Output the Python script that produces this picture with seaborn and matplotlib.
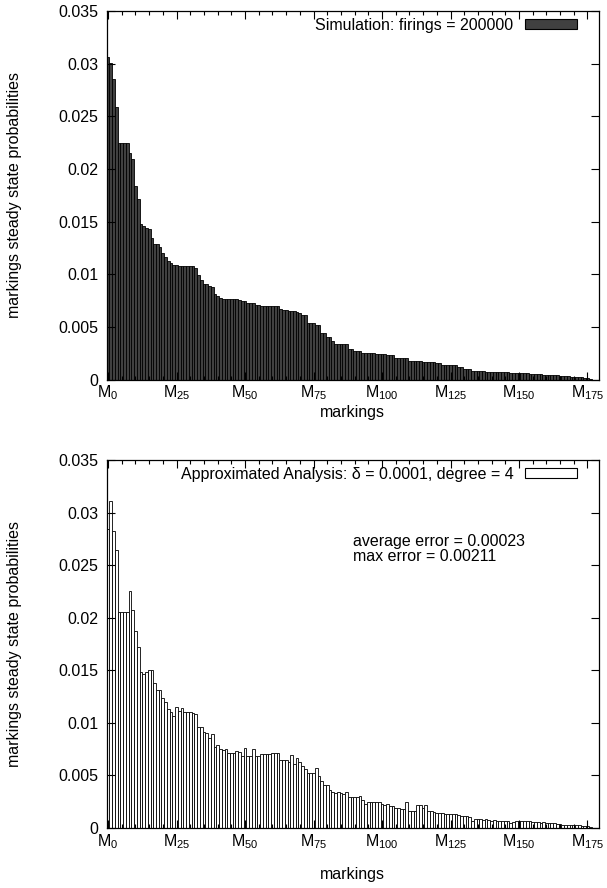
import numpy as np
import pandas as pd
import seaborn as sns
import matplotlib.pyplot as plt
from matplotlib.patches import Patch
from matplotlib.ticker import MultipleLocator, FuncFormatter

plt.rcParams['font.family'] = ['Liberation Sans', 'DejaVu Sans']
plt.rcParams['mathtext.default'] = 'regular'

#steady state probability of each marking (sorted by the simulation result)
sim_probs = [
    0.0306, 0.0301, 0.0285, 0.0259, 0.0225, 0.0225, 0.0225, 0.0225, 0.0215, 0.0209,
    0.0184, 0.0171, 0.0148, 0.0146, 0.0144, 0.0143, 0.0134, 0.0129, 0.0129, 0.0126,
    0.0120, 0.0116, 0.0113, 0.0111, 0.0109, 0.01085, 0.0108, 0.0108, 0.0108, 0.0108,
    0.0108, 0.0108, 0.0106, 0.0099, 0.0095, 0.0091, 0.0091, 0.0089, 0.0088, 0.0081,
    0.0079, 0.0077, 0.00765, 0.00765, 0.00765, 0.00765, 0.00765, 0.00765, 0.0076, 0.0075,
    0.0075, 0.0073, 0.0073, 0.0073, 0.0071, 0.0071, 0.0070, 0.0070, 0.0070, 0.0070,
    0.0070, 0.0070, 0.0070, 0.0067, 0.0066, 0.0066, 0.0065, 0.0065, 0.0065, 0.0064,
    0.0063, 0.0061, 0.0061, 0.0054, 0.0054, 0.0054, 0.0052, 0.0052, 0.0044, 0.0044,
    0.0040, 0.0040, 0.0037, 0.0034, 0.0034, 0.0034, 0.0034, 0.0034, 0.0029, 0.0029,
    0.0027, 0.0027, 0.0027, 0.00255, 0.00255, 0.00255, 0.00255, 0.00255, 0.0024, 0.0024,
    0.0024, 0.0024, 0.0023, 0.0023, 0.0023, 0.0020, 0.0020, 0.0020, 0.0020, 0.0020,
    0.0018, 0.0018, 0.0018, 0.0018, 0.0018, 0.0017, 0.0017, 0.0017, 0.0017, 0.0017,
    0.0016, 0.0016, 0.0014, 0.0014, 0.0014, 0.0014, 0.0014, 0.0014, 0.0012, 0.0012,
    0.0010, 0.0010, 0.0010, 0.00084, 0.00084, 0.00084, 0.00084, 0.00084, 0.00074, 0.00074,
    0.00074, 0.00074, 0.00074, 0.00074, 0.00074, 0.00074, 0.00074, 0.00065, 0.00065, 0.00065,
    0.00065, 0.00065, 0.00065, 0.00065, 0.00055, 0.00055, 0.00055, 0.00055, 0.00055, 0.00046,
    0.00046, 0.00046, 0.00046, 0.00046, 0.00046, 0.00036, 0.00036, 0.00036, 0.00036, 0.00027,
    0.00027, 0.00027, 0.00027, 0.00027, 0.00017, 0.0001, 0.00006,
]

approx_probs = [
    0.0284, 0.0311, 0.0282, 0.0264, 0.0205, 0.0205, 0.0205, 0.0205, 0.0225, 0.0207,
    0.0187, 0.0172, 0.0148, 0.0146, 0.0148, 0.0150, 0.0150, 0.0138, 0.0131, 0.0131,
    0.0123, 0.0120, 0.0113, 0.0110, 0.0106, 0.0115, 0.0111, 0.0114, 0.0110, 0.0110,
    0.0110, 0.01095, 0.0108, 0.00955, 0.0096, 0.0091, 0.0090, 0.0085, 0.0089, 0.0077,
    0.0079, 0.0075, 0.0074, 0.0075, 0.0071, 0.0071, 0.0071, 0.0073, 0.0072, 0.0068,
    0.0076, 0.0068, 0.0068, 0.0075, 0.0068, 0.0068, 0.0070, 0.0070, 0.0070, 0.0070,
    0.0071, 0.0071, 0.0071, 0.0064, 0.0064, 0.0064, 0.0063, 0.0069, 0.0061, 0.0066,
    0.0063, 0.0059, 0.0056, 0.0052, 0.0052, 0.0052, 0.0057, 0.0049, 0.0044, 0.0041,
    0.0041, 0.0036, 0.0034, 0.0033, 0.0034, 0.0033, 0.0032, 0.0034, 0.0029, 0.0029,
    0.0029, 0.0029, 0.0030, 0.0026, 0.0023, 0.00245, 0.00245, 0.00245, 0.00245, 0.00245,
    0.0023, 0.0022, 0.0023, 0.0021, 0.0021, 0.0019, 0.0019, 0.0018, 0.0018, 0.00245,
    0.0016, 0.0016, 0.0016, 0.0022, 0.0022, 0.0019, 0.0022, 0.0016, 0.00155, 0.0015,
    0.0014, 0.0014, 0.00136, 0.0013, 0.0013, 0.0013, 0.0013, 0.0013, 0.0012, 0.0011,
    0.0011, 0.0011, 0.00098, 0.0006, 0.0008, 0.0008, 0.0008, 0.00073, 0.0008, 0.00073,
    0.00067, 0.00073, 0.00067, 0.00067, 0.00067, 0.00067, 0.0006, 0.00044, 0.00054, 0.00067,
    0.00067, 0.00067, 0.00064, 0.0006, 0.0006, 0.00054, 0.00051, 0.00054, 0.00048, 0.00051,
    0.00048, 0.00044, 0.00041, 0.00041, 0.00035, 0.00032, 0.00029, 0.00029, 0.00026, 0.00026,
    0.00022, 0.00029, 0.00026, 0.00019, 0.00016, 0.00013, 0.0001,
]

markings = list(range(len(sim_probs)))
tick_markings = [0, 25, 50, 75, 100, 125, 150, 175]
tick_labels = [f'M$_{{{m}}}$' for m in tick_markings]

sim_label = 'Simulation: firings = 200000'
approx_label = 'Approximated Analysis: \u03b4 = 0.0001, degree = 4'
error_text = 'average error = 0.00023\nmax error = 0.00211'

FONT = 11.5

fig = plt.figure(figsize=(6.07, 8.88), dpi=100)
ax1 = fig.add_axes([0.1758, 0.5726, 0.8110, 0.4150])
ax2 = fig.add_axes([0.1758, 0.0679, 0.8110, 0.4141])

#(axes, data, fill colour, legend text, xlabel y position in axes coords)
panels = [
    (ax1, sim_probs, '#404040', sim_label, -0.068),
    (ax2, approx_probs, 'white', approx_label, -0.108),
]

for ax, probs, fill, label, xlab_y in panels:
    df = pd.DataFrame({'marking': markings, 'prob': probs})
    sns.barplot(data=df, x='marking', y='prob', color=fill, saturation=1,
                edgecolor='black', linewidth=0.6, width=1.0, ax=ax, errorbar=None)

    ax.set_xlim(-0.5, 179.2)
    ax.set_ylim(0, 0.035)
    ax.set_xticks(tick_markings)
    ax.set_xticklabels(tick_labels, fontsize=FONT)
    ax.xaxis.set_minor_locator(MultipleLocator(5))
    ax.yaxis.set_major_locator(MultipleLocator(0.005))
    ax.yaxis.set_major_formatter(FuncFormatter(lambda v, p: '%g' % round(v, 4)))
    ax.tick_params(axis='both', which='both', direction='in', top=True, right=True,
                   labelsize=FONT, width=0.8)
    ax.tick_params(axis='both', which='major', length=6)
    ax.tick_params(axis='y', which='major', pad=6)
    ax.tick_params(axis='x', which='major', pad=3)
    ax.tick_params(axis='x', which='minor', length=3)
    for s in ax.spines.values():
        s.set_linewidth(0.9)
    ax.set_xlabel('markings', fontsize=FONT)
    ax.xaxis.set_label_coords(0.5, xlab_y)
    ax.set_ylabel('markings steady state probabilities', fontsize=FONT)
    ax.yaxis.set_label_coords(-0.172, 0.5)

    handle = Patch(facecolor=fill, edgecolor='black', linewidth=0.8)
    ax.legend([handle], [label], loc='upper right', bbox_to_anchor=(0.966, 0.995),
              frameon=False, markerfirst=False, fontsize=FONT,
              handlelength=3.3, handleheight=0.55, handletextpad=0.7,
              borderpad=0.3, borderaxespad=0.0)

ax2.text(0.50, 0.80, error_text, transform=ax2.transAxes, fontsize=FONT,
         va='top', ha='left', linespacing=1.0)

fig.savefig('out.png', dpi=100)
